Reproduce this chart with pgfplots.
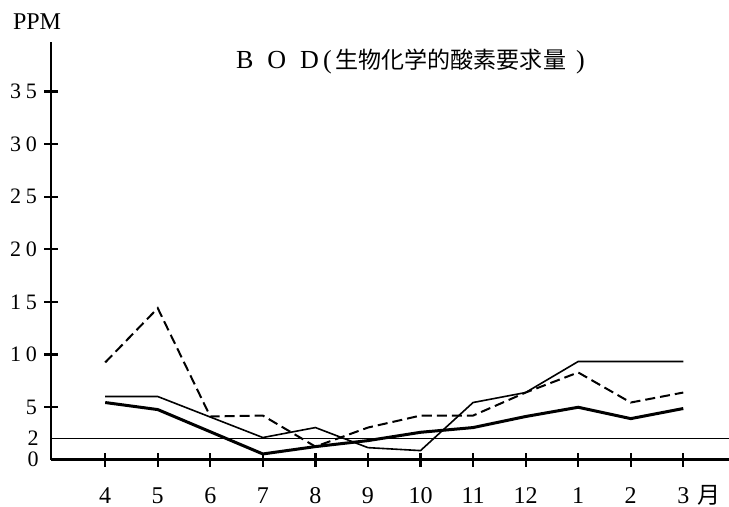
\documentclass[border=0pt]{standalone}
\usepackage{pgfplots}
\pgfplotsset{compat=1.18}
\usepackage{fontspec}
\setmainfont{Liberation Serif}
\newfontfamily\cjk{Noto Sans CJK JP}
\newfontfamily\spaced[LetterSpace=22]{Liberation Serif}

\pgfplotstableread{
x y
0 9.24
1 14.4
2 4.1
3 4.19
4 1.24
5 3.05
6 4.19
7 4.19
8 6.38
9 8.29
10 5.43
11 6.38
}\dashedtab

\pgfplotstableread{
x y
0 6.0
1 6.0
3 2.1
4 3.05
5 1.14
6 0.86
7 5.43
8 6.38
9 9.33
10 9.33
11 9.33
}\thintab

\pgfplotstableread{
x y
0 5.43
1 4.76
3 0.54
4 1.24
5 1.81
6 2.6
7 3.05
8 4.1
9 4.98
10 3.9
11 4.86
}\thicktab

\begin{document}
\begin{tikzpicture}
\begin{axis}[
  scale only axis, width=338.5pt, height=208.5pt,
  xmin=-1.03, xmax=11.87, ymin=0, ymax=39.7,
  axis x line*=bottom, axis y line*=left,
  x axis line style={line width=1.5pt},
  y axis line style={line width=1.2pt},
  xtick={0,...,11},
  xticklabels={4,5,6,7,8,9,10,11,12,1,2,{3\rlap{\hspace{4pt}\smash{\cjk\fontsize{11.5}{12}\selectfont 月}}}},
  ytick={5,10,15,20,25,30,35},
  yticklabels={5,10,15,20,25,30,35},
  tick align=center, major tick length=7pt,
  every tick/.style={draw=black, line width=1.1pt},
  xticklabel style={font=\fontsize{12}{13}\selectfont, yshift=-7pt},
  yticklabel style={font=\spaced\fontsize{11}{12}\selectfont},
  /pgf/number format/assume math mode=true,
  clip=false,
]
\addplot[black, line width=0.8pt] coordinates {(-1.03,2) (11.87,2)};
\addplot[black, line width=1pt, dash pattern=on 5pt off 2.5pt] table[x=x,y=y] {\dashedtab};
\addplot[black, line width=0.8pt] table[x=x,y=y] {\thintab};
\addplot[black, line width=1.5pt] table[x=x,y=y] {\thicktab};
\node[anchor=east, inner sep=0pt, font=\spaced\fontsize{11}{12}\selectfont] at ([xshift=-6pt]axis cs:-1.03,0) {0};
\node[anchor=east, inner sep=0pt, font=\spaced\fontsize{11}{12}\selectfont] at ([xshift=-6pt]axis cs:-1.03,2) {2};
\node[font=\fontsize{12}{14}\selectfont] at ([xshift=-7pt,yshift=10.25pt]rel axis cs:0,1) {PPM};
\node at (rel axis cs:0.53,0.954) {\fontsize{13}{15}\selectfont B\hspace{7pt}O\hspace{7pt}D\hspace{2pt}(\hspace{2pt}{\cjk\fontsize{11.5}{14}\selectfont 生物化学的酸素要求量}\hspace{5pt})};
\coordinate (sw) at (rel axis cs:0,0);
\coordinate (ne) at (rel axis cs:1,1);
\end{axis}
\pgfresetboundingbox
\path[use as bounding box] ([xshift=-25.5pt,yshift=-23.5pt]sw) rectangle ([yshift=21pt]ne);
\end{tikzpicture}
\end{document}
